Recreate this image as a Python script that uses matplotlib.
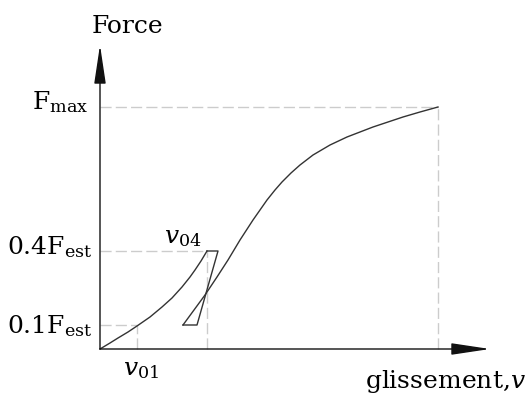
import numpy as np
import matplotlib.pyplot as plt

plt.rcParams['font.family'] = 'DejaVu Serif'
plt.rcParams['mathtext.fontset'] = 'dejavuserif'

load_x = [0, 10, 18, 28, 37, 50, 62, 72, 82, 90, 95, 101, 107]
load_y = [0, 6, 11, 17, 23, 32, 42, 51, 62, 72, 79, 88, 98]

# petit cycle de decharge / recharge a 0.4 Fest
loop_x = [107, 118, 97, 83]
loop_y = [98, 98, 24, 24]

# courbe de rechargement jusqu'a Fmax
curve_x = [83, 94, 105, 117, 128, 140, 153, 167, 175, 182, 191, 200, 213,
           230, 247, 260, 273, 288, 303, 320, 338]
curve_y = [24, 39, 54, 72, 89, 109, 129, 149, 159, 167, 176, 184, 194,
           204, 212, 217, 222, 227, 232, 237, 242]

v01, v04, v_max = 37, 107, 338
f01, f04, f_max = 24, 98, 242

fig = plt.figure(figsize=(5.31, 4.01), dpi=100)
ax = fig.add_axes([0, 0, 1, 1])
ax.set_xlim(-100, 431)
ax.set_ylim(-52, 349)
ax.axis('off')

dash = dict(color='#cccccc', lw=1, dashes=(8, 3))
ax.plot([0, v_max], [f_max, f_max], **dash)
ax.plot([v_max, v_max], [0, f_max], **dash)
ax.plot([0, v04], [f04, f04], **dash)
ax.plot([v04, v04], [0, f04], **dash)
ax.plot([0, v01], [f01, f01], **dash)
ax.plot([v01, v01], [0, f01], **dash)

line = dict(color='#333333', lw=1.0)
ax.plot(load_x, load_y, **line)
ax.plot([load_x[-1]] + loop_x, [load_y[-1]] + loop_y, **line)
ax.plot(curve_x, curve_y, **line)

# axes avec fleches
arr = dict(arrowstyle='-|>,head_length=2.4,head_width=0.36', color='#111111',
           lw=1, shrinkA=0, shrinkB=0, mutation_scale=10)
ax.annotate('', xy=(0, 304), xytext=(0, 0), arrowprops=arr)
ax.annotate('', xy=(390, 0), xytext=(0, 0), arrowprops=arr)

fs = 18
ax.text(-8, 316, 'Force', fontsize=fs, ha='left', va='baseline')
ax.text(-12, 240, r'$\mathrm{F_{max}}$', fontsize=fs, ha='right', va='baseline')
ax.text(-7, 95, r'$\mathrm{0.4F_{est}}$', fontsize=fs, ha='right', va='baseline')
ax.text(-7, 16, r'$\mathrm{0.1F_{est}}$', fontsize=fs, ha='right', va='baseline')
ax.text(83, 106, r'$v_{04}$', fontsize=fs, ha='center', va='baseline')
ax.text(41, -26, r'$v_{01}$', fontsize=fs, ha='center', va='baseline')
ax.text(265, -39, r'glissement,$v$', fontsize=fs, ha='left', va='baseline')

fig.savefig('out.png', dpi=100)
